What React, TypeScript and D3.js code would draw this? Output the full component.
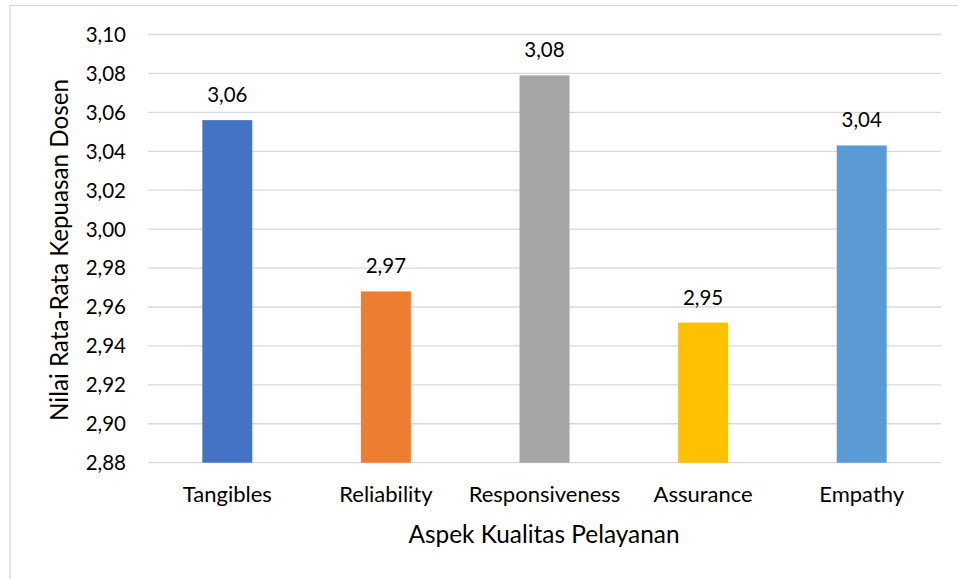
import React from "react";
import * as d3 from "d3";

// Average lecturer-satisfaction scores per service-quality dimension
const categories = ["Tangibles", "Reliability", "Responsiveness", "Assurance", "Empathy"];
const scores = [3.056, 2.968, 3.079, 2.952, 3.043];
const barColors = ["#4472C4", "#ED7D31", "#A5A5A5", "#FFC000", "#5B9BD5"];
const yTicks = [2.88, 2.9, 2.92, 2.94, 2.96, 2.98, 3.0, 3.02, 3.04, 3.06, 3.08, 3.1];

const W = 958;
const H = 579;
const FONT = "Lato, 'Open Sans', sans-serif";
const plot = { left: 148, right: 941, top: 34.5, bottom: 462.7 };

const fmt = (v: number) => d3.format(".2f")(v).replace(".", ",");

export default function App() {
  const x = d3
    .scaleBand<string>()
    .domain(categories)
    .range([plot.left, plot.right])
    .paddingInner(0.685)
    .paddingOuter(0.3425);
  const y = d3.scaleLinear().domain([2.88, 3.1]).range([plot.bottom, plot.top]);

  return (
    <svg
      width={W}
      height={H}
      style={{ position: "absolute", left: 0, top: 0, background: "#fff" }}
    >
      <rect x={10} y={5.5} width={W + 10} height={H + 10} fill="#fff" stroke="#D9D9D9" strokeWidth={1.2} />

      {yTicks.map((t) => (
        <g key={t}>
          <line x1={plot.left} x2={plot.right} y1={y(t)} y2={y(t)} stroke="#D9D9D9" strokeWidth={1.3} />
          <text x={126} y={y(t)} dy="0.36em" textAnchor="end" fontFamily={FONT} fontSize={20.5} fill="#000">
            {fmt(t)}
          </text>
        </g>
      ))}

      {categories.map((c, i) => (
        <g key={c}>
          <rect
            x={x(c)!}
            y={y(scores[i])}
            width={x.bandwidth()}
            height={y(2.88) - y(scores[i])}
            fill={barColors[i]}
          />
          <text
            x={x(c)! + x.bandwidth() / 2}
            y={y(scores[i]) - 18}
            textAnchor="middle"
            fontFamily={FONT}
            fontSize={20.5}
            fill="#000"
          >
            {fmt(scores[i])}
          </text>
          <text
            x={x(c)! + x.bandwidth() / 2}
            y={502}
            textAnchor="middle"
            fontFamily={FONT}
            fontSize={22}
            fill="#000"
          >
            {c}
          </text>
        </g>
      ))}

      <text x={544} y={543} textAnchor="middle" fontFamily={FONT} fontSize={24.4} fill="#000">
        Aspek Kualitas Pelayanan
      </text>
      <text
        transform={`translate(68, 250) rotate(-90)`}
        textAnchor="middle"
        fontFamily={FONT}
        fontSize={24.2}
        fill="#000"
      >
        Nilai Rata-Rata Kepuasan Dosen
      </text>
    </svg>
  );
}
